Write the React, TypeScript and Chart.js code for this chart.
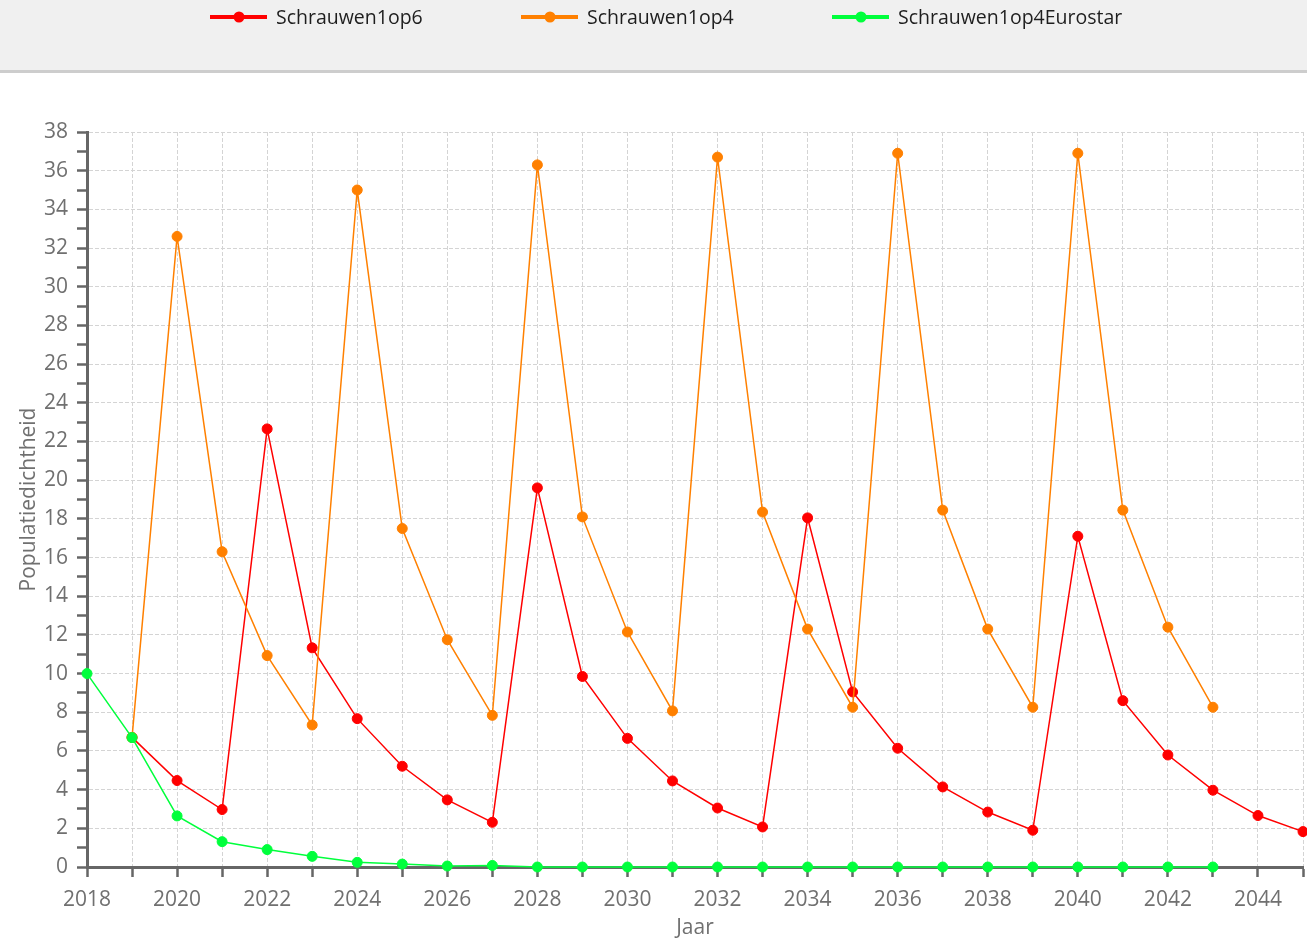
import React, { useEffect, useRef } from 'react';
import { Chart, registerables } from 'chart.js';

Chart.register(...registerables);

const years = [
  2018, 2019, 2020, 2021, 2022, 2023, 2024, 2025, 2026, 2027, 2028, 2029, 2030, 2031,
  2032, 2033, 2034, 2035, 2036, 2037, 2038, 2039, 2040, 2041, 2042, 2043, 2044, 2045,
];

const schrauwen1op6 = [
  null, 6.7, 4.47, 2.97, 22.65, 11.33, 7.67, 5.21, 3.47, 2.31, 19.6, 9.85, 6.65, 4.45,
  3.05, 2.07, 18.05, 9.05, 6.14, 4.14, 2.84, 1.9, 17.1, 8.6, 5.79, 3.97, 2.66, 1.83,
];

const schrauwen1op4 = [
  null, 6.7, 32.6, 16.3, 10.93, 7.34, 35.0, 17.5, 11.75, 7.84, 36.3, 18.1, 12.15, 8.07,
  36.7, 18.35, 12.3, 8.26, 36.9, 18.45, 12.3, 8.26, 36.9, 18.45, 12.4, 8.26, null, null,
];

const schrauwen1op4Eurostar = [
  10, 6.69, 2.64, 1.31, 0.9, 0.55, 0.24, 0.15, 0.05, 0.08, 0, 0, 0, 0,
  0, 0, 0, 0, 0, 0, 0, 0, 0, 0, 0, 0, null, null,
];

const seriesLabels = ['Schrauwen1op6', 'Schrauwen1op4', 'Schrauwen1op4Eurostar'];
const seriesColors = ['#ff0000', '#ff8000', '#00ff3c'];

const FONT = "'Open Sans', 'Liberation Sans', sans-serif";
const AXIS = '#666666';
const LABEL = '#707070';
const GRID = '#d4d4d4';

const bandPlugin = {
  id: 'legendBand',
  beforeDraw(chart: any) {
    const ctx = chart.ctx;
    ctx.save();
    ctx.fillStyle = '#f0f0f0';
    ctx.fillRect(0, 0, chart.width, 70);
    ctx.fillStyle = '#cdcdcd';
    ctx.fillRect(0, 70, chart.width, 3);
    chart.data.datasets.forEach((ds: any, i: number) => {
      const x0 = 210 + i * 311;
      const y = 17;
      ctx.strokeStyle = ds.borderColor;
      ctx.lineWidth = 4;
      ctx.beginPath();
      ctx.moveTo(x0, y);
      ctx.lineTo(x0 + 57, y);
      ctx.stroke();
      ctx.fillStyle = ds.borderColor;
      ctx.beginPath();
      ctx.arc(x0 + 29, y, 5.5, 0, Math.PI * 2);
      ctx.fill();
      ctx.fillStyle = '#1e1e1e';
      ctx.font = `19.5px ${FONT}`;
      ctx.textBaseline = 'middle';
      ctx.textAlign = 'left';
      ctx.fillText(ds.label, x0 + 66, y + 1);
    });
    ctx.restore();
  },
};

export default function App() {
  const ref = useRef<HTMLCanvasElement | null>(null);

  useEffect(() => {
    if (!ref.current) return;
    const seriesData = [schrauwen1op6, schrauwen1op4, schrauwen1op4Eurostar];
    const chart = new Chart(ref.current, {
      type: 'line',
      data: {
        labels: years.map(String),
        datasets: seriesData.map((d, i) => ({
          label: seriesLabels[i],
          data: d,
          borderColor: seriesColors[i],
          backgroundColor: seriesColors[i],
          pointBackgroundColor: seriesColors[i],
          pointBorderColor: seriesColors[i],
          borderWidth: 1.5,
          pointRadius: 5,
          pointBorderWidth: 1,
          tension: 0,
          fill: false,
          spanGaps: false,
          clip: 8,
          order: 2 - i,
        })),
      },
      options: {
        responsive: false,
        animation: false,
        devicePixelRatio: 1,
        layout: { autoPadding: false, padding: { top: 132, right: 4, bottom: 0, left: 0 } },
        plugins: {
          legend: { display: false },
          tooltip: { enabled: false },
          title: { display: false },
        },
        scales: {
          x: {
            type: 'category',
            offset: false,
            grid: {
              color: GRID,
              lineWidth: 1,
              drawTicks: true,
              tickLength: 10,
              tickColor: AXIS,
              tickWidth: 2.5,
            },
            border: { display: true, color: AXIS, width: 3, dash: [4, 2] },
            ticks: {
              autoSkip: false,
              maxRotation: 0,
              minRotation: 0,
              color: LABEL,
              padding: 4,
              font: { family: FONT, size: 21, lineHeight: 1.77 },
              callback: (_v: any, i: number) => (years[i] % 2 === 0 ? String(years[i]) : ''),
            },
            title: {
              display: true,
              text: 'Jaar',
              color: LABEL,
              font: { family: FONT, size: 21 },
              padding: { top: 0, bottom: -3 },
            },
            afterFit: (s: any) => {
              s.height = 71;
            },
          },
          y: {
            type: 'linear',
            min: 0,
            max: 38,
            grid: {
              color: (c: any) => (c.tick && c.tick.value % 2 === 0 ? GRID : 'rgba(0,0,0,0)'),
              lineWidth: 1,
              drawTicks: true,
              tickLength: 10,
              tickColor: AXIS,
              tickWidth: 2.5,
            },
            border: { display: true, color: AXIS, width: 3, dash: [4, 2] },
            ticks: {
              stepSize: 1,
              autoSkip: false,
              maxTicksLimit: 100,
              color: LABEL,
              padding: 9,
              font: { family: FONT, size: 21 },
              callback: (v: any) => (Number(v) % 2 === 0 ? String(v) : ''),
            },
            title: {
              display: true,
              text: 'Populatiedichtheid',
              color: LABEL,
              font: { family: FONT, size: 21 },
              padding: { top: 16, bottom: 0 },
            },
            afterFit: (s: any) => {
              s.width = 87;
            },
          },
        },
      } as any,
      plugins: [bandPlugin],
    });
    return () => chart.destroy();
  }, []);

  return (
    <div style={{ position: 'absolute', left: 0, top: 0, width: 1307, height: 938, background: '#ffffff' }}>
      <canvas ref={ref} width={1307} height={938} style={{ display: 'block', width: 1307, height: 938 }} />
    </div>
  );
}
